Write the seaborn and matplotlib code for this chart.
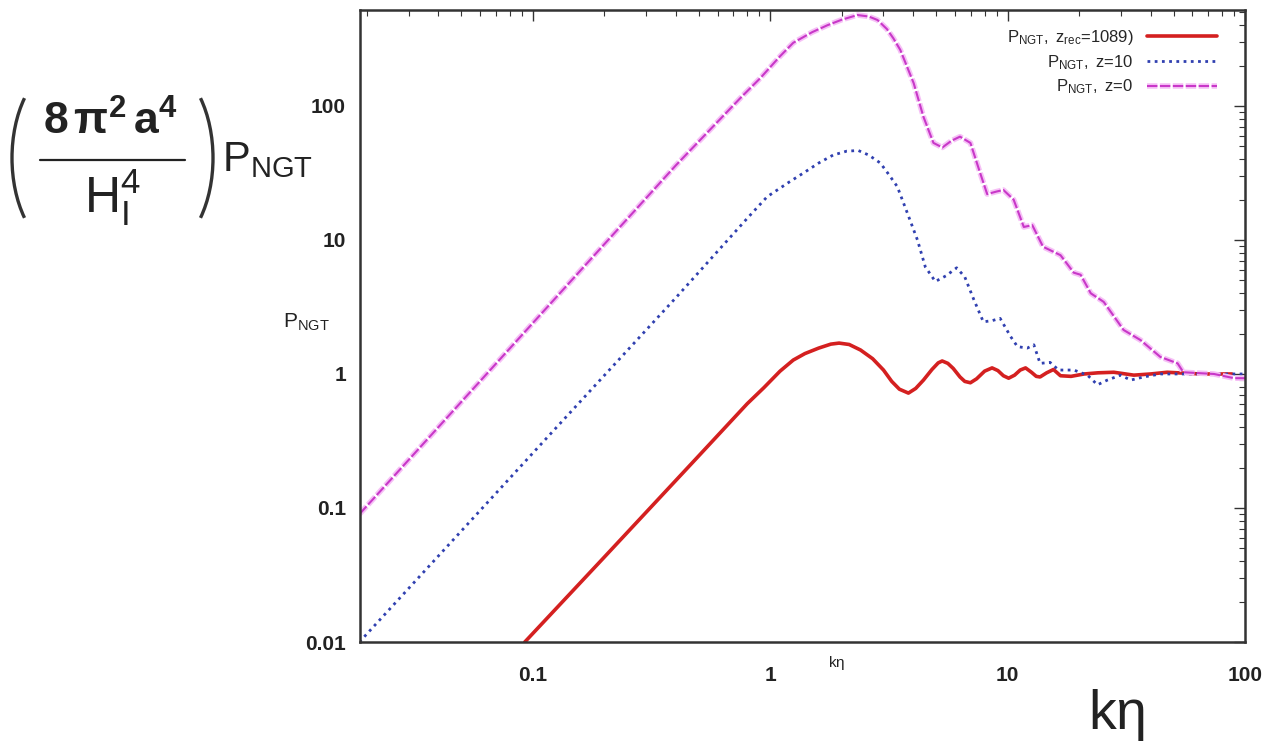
import numpy as np
import pandas as pd
import matplotlib
matplotlib.use("Agg")
import matplotlib.pyplot as plt
import matplotlib.patheffects as pe
from matplotlib.patches import Arc
from matplotlib.lines import Line2D
from matplotlib.ticker import FixedLocator, FixedFormatter, LogLocator, NullFormatter
import seaborn as sns

# ---- data ----
k_rec = [0.0925, 0.2, 0.5, 0.8, 0.94, 1.1, 1.25, 1.4, 1.6, 1.8, 1.95, 2.15, 2.4, 2.7, 3.0, 3.25,
         3.5, 3.82, 4.1, 4.42, 4.8, 5.1, 5.3, 5.6, 5.9, 6.3, 6.6, 6.97, 7.4, 8.0, 8.6, 9.1,
         9.6, 10.1, 10.7, 11.3, 11.9, 12.6, 13.2, 13.7, 14.6, 15.6, 16.7, 18.5, 21.0, 24.0,
         28.0, 34.0, 40.0, 47.0, 65.0, 88.0]
p_rec = [0.01, 0.043, 0.245, 0.60, 0.79, 1.05, 1.27, 1.42, 1.56, 1.67, 1.70, 1.66, 1.51, 1.30, 1.07, 0.88,
         0.77, 0.72, 0.78, 0.90, 1.08, 1.21, 1.25, 1.20, 1.10, 0.95, 0.88, 0.86, 0.92, 1.05, 1.11, 1.06,
         0.97, 0.93, 0.98, 1.07, 1.11, 1.03, 0.96, 0.95, 1.02, 1.08, 0.97, 0.96, 1.00, 1.02,
         1.03, 0.98, 1.00, 1.03, 1.00, 1.00]

k_z10 = [0.0186, 0.1, 0.4, 0.8, 0.97, 1.2, 1.38, 1.6, 1.84, 2.1, 2.35, 2.6, 2.91, 3.15, 3.43, 3.78,
         4.17, 4.5, 4.96, 5.5, 6.1, 6.6, 7.2, 7.9, 8.6, 9.3, 10.3, 11.0, 12.1, 12.9, 13.7, 15.1,
         16.4, 19.0, 21.7, 23.9, 26.3, 29.9, 33.0, 37.4, 44.0, 65.0, 100.0]
p_z10 = [0.01, 0.257, 3.7, 14.5, 21.0, 27.0, 31.6, 37.5, 43.0, 46.0, 46.5, 43.0, 37.5, 31.0, 25.0, 15.9,
         10.0, 6.3, 4.9, 5.4, 6.2, 5.3, 3.6, 2.45, 2.5, 2.6, 1.9, 1.6, 1.56, 1.65, 1.2, 1.22,
         1.07, 1.07, 0.98, 0.83, 0.90, 0.98, 0.90, 0.95, 1.0, 1.0, 1.0]

k_z0 = [0.0186, 0.1, 0.4, 0.75, 0.91, 1.1, 1.25, 1.5, 1.74, 2.0, 2.33, 2.6, 2.83, 3.1, 3.3, 3.53,
        4.02, 4.42, 4.87, 5.31, 5.8, 6.3, 6.97, 7.6, 8.2, 9.0, 9.6, 10.6, 11.7, 12.7, 14.1,
        16.7, 19.0, 20.3, 22.4, 25.4, 30.8, 36.3, 44.0, 52.0, 55.0, 74.0, 90.0, 100.0]
p_z0 = [0.09, 2.4, 36.0, 115.0, 162.0, 235.0, 296.0, 355.0, 400.0, 440.0, 477.0, 465.0, 438.0, 375.0, 320.0, 262.0,
        148.0, 83.0, 53.0, 49.0, 55.0, 59.0, 53.0, 33.0, 22.0, 23.0, 23.6, 20.0, 12.5, 12.9, 8.9,
        7.7, 5.7, 5.5, 4.0, 3.45, 2.13, 1.79, 1.34, 1.2, 1.03, 1.0, 0.93, 0.93]

labels = [r"$\mathrm{P_{NGT},\ z_{rec}}$=1089)", r"$\mathrm{P_{NGT},\ z}$=10", r"$\mathrm{P_{NGT},\ z}$=0"]
tick_vals = [0.01, 0.1, 1, 10, 100]
tick_labels = ["0.01", "0.1", "1", "10", "100"]

# ---- style ----
sns.set_style("white")
plt.rcParams["font.family"] = ["Liberation Sans", "DejaVu Sans"]
plt.rcParams["mathtext.fontset"] = "custom"
plt.rcParams["mathtext.rm"] = "Liberation Sans"
plt.rcParams["mathtext.it"] = "Liberation Sans"
plt.rcParams["mathtext.bf"] = "Liberation Sans:bold"

W, H = 1279, 751
fig = plt.figure(figsize=(W / 100, H / 100), dpi=100)
ax = fig.add_axes([360 / W, 1 - 642 / H, (1245 - 360) / W, (642 - 10) / H])

df_rec = pd.DataFrame({"k": k_rec, "p": p_rec})
df_z10 = pd.DataFrame({"k": k_z10, "p": p_z10})
df_z0 = pd.DataFrame({"k": k_z0, "p": p_z0})

sns.lineplot(data=df_rec, x="k", y="p", ax=ax, color="#d42020", lw=2.6,
             label=labels[0], sort=False)
sns.lineplot(data=df_z10, x="k", y="p", ax=ax, color="#3040b0", lw=2.0,
             linestyle=(0, (1, 1.6)), label=labels[1], sort=False)
sns.lineplot(data=df_z0, x="k", y="p", ax=ax, color="#c838c8", lw=1.5,
             linestyle=(0, (5, 1.2)), label=labels[2], sort=False,
             path_effects=[pe.Stroke(linewidth=4, foreground="#f6c0f6"), pe.Normal()])

ax.set_xscale("log")
ax.set_yscale("log")
ax.set_xlim(0.0187, 100)
ax.set_ylim(0.01, 520)

for axis in (ax.xaxis, ax.yaxis):
    axis.set_major_locator(FixedLocator(tick_vals))
    axis.set_major_formatter(FixedFormatter(tick_labels))
    axis.set_minor_locator(LogLocator(base=10, subs=np.arange(2, 10), numticks=20))
    axis.set_minor_formatter(NullFormatter())

ax.tick_params(which="both", direction="in", top=True, right=True, colors="#333333")
ax.tick_params(which="major", length=8, width=1.0, labelsize=15, labelcolor="#222222")
ax.tick_params(which="minor", length=4, width=0.8)
ax.tick_params(axis="y", which="major", pad=10)
ax.tick_params(axis="x", which="major", pad=17)
for lab in ax.get_xticklabels() + ax.get_yticklabels():
    lab.set_fontweight("bold")
for s in ax.spines.values():
    s.set_color("#333333")
    s.set_linewidth(1.8)

ax.set_xlabel("")
ax.set_ylabel("")

ax.legend(loc="upper right", bbox_to_anchor=(0.985, 0.995), frameon=False,
          markerfirst=False, fontsize=12, handlelength=4.2, labelspacing=0.35,
          handletextpad=0.8)

# small inner axis labels
fig.text(283 / W, 1 - 322 / H, r"$\mathrm{P_{NGT}}$", fontsize=15, va="center",
         ha="left", color="#222222")
fig.text(828 / W, 1 - 663 / H, r"$\mathrm{k\eta}$", fontsize=11, va="center",
         ha="left", color="#222222", fontweight="bold")

# big outer labels: (8 pi^2 a^4 / H_I^4) P_NGT
px = fig.dpi_scale_trans  # inches; 1 inch = 100 px here
def Y(py):
    return (H - py) / 100.0

fig.add_artist(Arc((68 / 100, Y(158)), 2 * 56 / 100, 2 * 95 / 100, theta1=126, theta2=234,
                   transform=px, color="#333333", lw=2.4))
fig.add_artist(Arc((157 / 100, Y(158)), 2 * 56 / 100, 2 * 95 / 100, theta1=-54, theta2=54,
                   transform=px, color="#333333", lw=2.4))
fig.add_artist(Line2D([40 / 100, 185 / 100], [Y(160), Y(160)], transform=px,
                      color="#222222", lw=1.6))
fig.text(110 / 100, Y(122), r"$\mathbf{8\,\pi^2\,a^4}$", transform=px, fontsize=32,
         ha="center", va="center", color="#222222")
fig.text(112 / 100, Y(198), r"$\mathrm{H_I^4}$", transform=px, fontsize=36,
         ha="center", va="center", color="#222222")
fig.text(222 / 100, Y(160), r"$\mathrm{P_{NGT}}$", transform=px, fontsize=30,
         ha="left", va="center", color="#222222")

fig.text(1088 / W, 1 - 715 / H, r"$\mathrm{k\eta}$", fontsize=40, va="center",
         ha="left", color="#222222")

fig.savefig("out.png", dpi=100, facecolor="white")
